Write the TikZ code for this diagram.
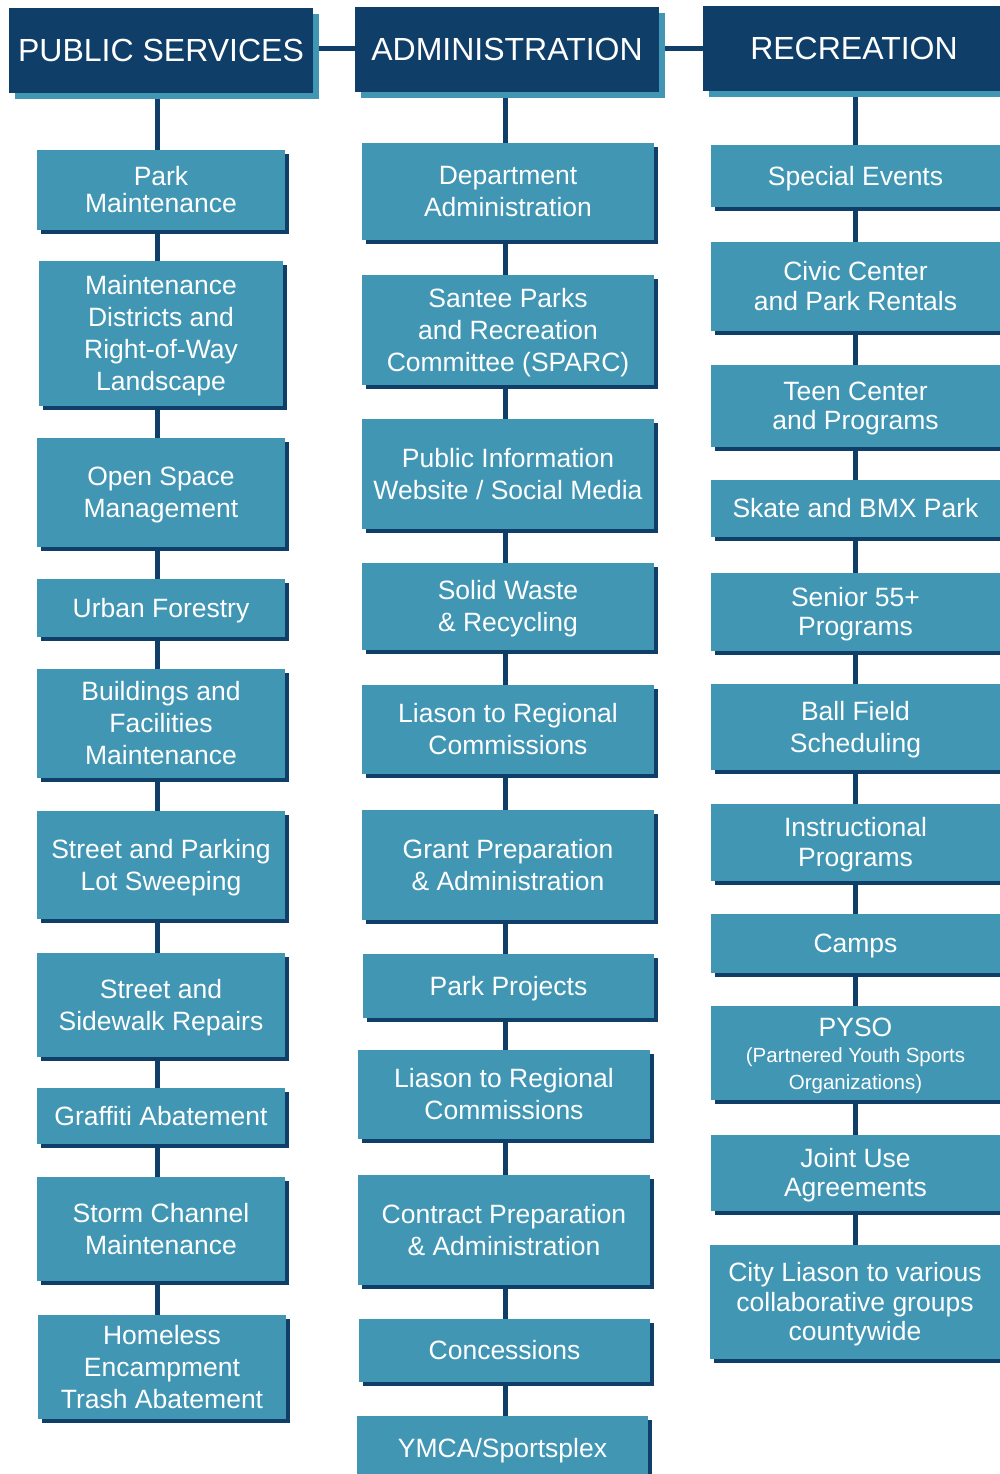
\documentclass[tikz,border=0pt]{standalone}
\usepackage{fontspec}
\setmainfont{Liberation Sans}
\usetikzlibrary{shadows,backgrounds}
\definecolor{hdnavy}{HTML}{0F3F68}
\definecolor{boxteal}{HTML}{4196B4}
\newcommand\tstrut{\rule[-.212em]{0pt}{1.117em}}
\newcommand\mkbox[7][sub]{%
  \pgfmathsetlengthmacro\bw{#5-#3}%
  \pgfmathsetlengthmacro\bh{#6-#4}%
  \node[#1,minimum width=\bw,minimum height=\bh] (#2) at ({(#3+#5)/2},{(#4+#6)/2}) {\tstrut#7\tstrut};}
\begin{document}
\lineskiplimit=-\maxdimen
\begin{tikzpicture}[x=1pt,y=-1pt,
  sub/.style={fill=boxteal,text=white,align=center,inner sep=0pt,
    font=\fontsize{26.5}{32}\selectfont,
    drop shadow={shadow xshift=4pt,shadow yshift=-4pt,fill=hdnavy,opacity=1}},
  subr/.style={sub,font=\fontsize{26.5}{29.5}\selectfont},
  hdr/.style={fill=hdnavy,text=white,align=center,inner sep=0pt,
    font=\fontsize{32}{36}\selectfont,
    drop shadow={shadow xshift=6pt,shadow yshift=-6pt,fill=boxteal,opacity=1}},
  conn/.style={draw=hdnavy,line width=5pt}]
\useasboundingbox (0,0) rectangle (1000,1474);
% headers
\mkbox[hdr]{h1}{9}{8}{313}{93}{PUBLIC SERVICES}
\mkbox[hdr]{h2}{355}{7}{659}{92}{ADMINISTRATION}
\mkbox[hdr]{h3}{703}{6}{1005}{91}{RECREATION}
% column 1
\mkbox[sub,font=\fontsize{26.5}{27}\selectfont]{a1}{37}{150}{285}{230}{Park\\Maintenance}
\mkbox{a2}{39}{261}{283}{406}{Maintenance\\Districts and\\Right-of-Way\\Landscape}
\mkbox{a3}{37}{438}{285}{547}{Open Space\\Management}
\mkbox{a4}{37}{579}{285}{637}{Urban Forestry}
\mkbox{a5}{37}{669}{285}{778}{Buildings and\\Facilities\\Maintenance}
\mkbox{a6}{37}{811}{285}{919}{Street and Parking\\Lot Sweeping}
\mkbox{a7}{37}{953}{285}{1057}{Street and\\Sidewalk Repairs}
\mkbox{a8}{37}{1088}{285}{1144}{Graffiti Abatement}
\mkbox{a9}{37}{1177}{285}{1281}{Storm Channel\\Maintenance}
\mkbox{a10}{38}{1315}{286}{1419}{Homeless\\Encampment\\Trash Abatement}
% column 2
\mkbox{b1}{362}{143}{654}{240}{Department\\Administration}
\mkbox{b2}{362}{275}{654}{385}{Santee Parks\\and Recreation\\Committee (SPARC)}
\mkbox{b3}{362}{419}{654}{529}{Public Information\\Website / Social Media}
\mkbox{b4}{362}{563}{654}{650}{Solid Waste\\\& Recycling}
\mkbox{b5}{362}{685}{654}{774}{Liason to Regional\\Commissions}
\mkbox{b6}{362}{810}{654}{920}{Grant Preparation\\\& Administration}
\mkbox{b7}{363}{954}{654}{1018}{Park Projects}
\mkbox{b8}{358}{1050}{650}{1139}{Liason to Regional\\Commissions}
\mkbox{b9}{358}{1175}{650}{1285}{Contract Preparation\\\& Administration}
\mkbox{b10}{359}{1319}{650}{1382}{Concessions}
\mkbox{b11}{357}{1416}{648}{1480}{YMCA/Sportsplex}
% column 3
\mkbox[subr]{c1}{711}{145}{1000}{207}{Special Events}
\mkbox[subr]{c2}{711}{242}{1000}{331}{Civic Center\\and Park Rentals}
\mkbox[subr]{c3}{711}{365}{1000}{447}{Teen Center\\and Programs}
\mkbox[subr]{c4}{711}{480}{1000}{537}{Skate and BMX Park}
\mkbox[subr]{c5}{711}{573}{1000}{651}{Senior 55+\\Programs}
\mkbox[sub]{c6}{711}{684}{1000}{770}{Ball Field\\Scheduling}
\mkbox[subr]{c7}{711}{804}{1000}{881}{Instructional\\Programs}
\mkbox[subr]{c8}{711}{914}{1000}{973}{Camps}
\mkbox[sub,font=\fontsize{20.5}{26.5}\selectfont]{c9}{711}{1006}{1000}{1100}{{\fontsize{26.5}{26.5}\selectfont\tstrut PYSO}\\(Partnered Youth Sports\\Organizations)}
\mkbox[subr]{c10}{711}{1135}{1000}{1211}{Joint Use\\Agreements}
\mkbox[subr]{c11}{710}{1245}{1000}{1359}{City Liason to various\\collaborative groups\\countywide}
% connectors
\begin{pgfonlayer}{background}
\coordinate (x1) at (157,0);
\coordinate (x2) at (505,0);
\coordinate (x3) at (855.5,0);
\coordinate (yl) at (0,49);
\draw[conn] (h1.center |- yl) -- (h2.center |- yl);
\draw[conn] (h2.center |- yl) -- (h3.center |- yl);
\foreach \u/\v in {h1/a1,a1/a2,a2/a3,a3/a4,a4/a5,a5/a6,a6/a7,a7/a8,a8/a9,a9/a10}
  \draw[conn] (\u.center -| x1) -- (\v.center -| x1);
\foreach \u/\v in {h2/b1,b1/b2,b2/b3,b3/b4,b4/b5,b5/b6,b6/b7,b7/b8,b8/b9,b9/b10,b10/b11}
  \draw[conn] (\u.center -| x2) -- (\v.center -| x2);
\foreach \u/\v in {h3/c1,c1/c2,c2/c3,c3/c4,c4/c5,c5/c6,c6/c7,c7/c8,c8/c9,c9/c10,c10/c11}
  \draw[conn] (\u.center -| x3) -- (\v.center -| x3);
\end{pgfonlayer}
\end{tikzpicture}
\end{document}
